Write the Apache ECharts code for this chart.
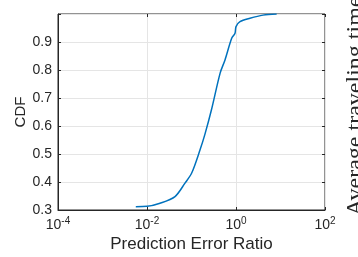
<!DOCTYPE html>
<html>
<head>
<meta charset="utf-8">
<script src="https://cdn.jsdelivr.net/npm/echarts@6/dist/echarts.min.js"></script>
<style>
  html, body { margin: 0; padding: 0; background: #fff; }
  #chart { width: 358px; height: 257px; }
</style>
</head>
<body>
<div id="chart"></div>
<script>
// values
const errorRatio = [0.0056, 0.01, 0.0196, 0.0426, 0.0714, 0.101, 0.155, 0.20, 0.28, 0.44, 0.566, 0.80, 0.95, 1.0, 1.23, 2.06, 4.05, 8.2];
const cdfValues = [0.312, 0.313, 0.324, 0.348, 0.396, 0.432, 0.514, 0.57, 0.657, 0.789, 0.836, 0.913, 0.931, 0.955, 0.973, 0.985, 0.996, 1.0];
const yTicks = [0.3, 0.4, 0.5, 0.6, 0.7, 0.8, 0.9];

const ink = "#262626";
const font = "Liberation Sans";

const chart = echarts.init(document.getElementById("chart"));

function powLabel(v) {
    const e = Math.round(Math.log10(v));
    return "10{sup|" + e + "}";
}

const gridLine = { show: true, lineStyle: { color: "#e5e5e5", width: 1 } };

chart.setOption({
    animation: false,
    backgroundColor: "#fff",
    grid: {
        left: 58, right: 33, top: 14, bottom: 47,
        outerBoundsMode: "none",
        show: true, borderColor: ink, borderWidth: 1
    },
    xAxis: [
        {
            type: "log",
            logBase: 10,
            min: 0.0001,
            max: 100,
            interval: 2,
            name: "Prediction Error Ratio",
            nameLocation: "middle",
            nameGap: 26,
            nameMoveOverlap: false,
            nameTextStyle: { fontFamily: font, fontSize: 17, color: ink },
            axisLine: { lineStyle: { color: ink } },
            axisTick: { inside: true, length: 3, lineStyle: { color: ink } },
            minorTick: { show: false },
            splitLine: gridLine,
            axisLabel: {
                formatter: powLabel,
                margin: 6,
                fontFamily: font,
                fontSize: 14,
                color: ink,
                rich: { sup: { fontFamily: font, fontSize: 10, color: ink, verticalAlign: "top", padding: [0, 0, 8, 0] } }
            }
        },
        {
            type: "log",
            logBase: 10,
            min: 0.0001,
            max: 100,
            interval: 2,
            position: "top",
            axisLine: { show: false },
            axisTick: { inside: true, length: 3, lineStyle: { color: ink } },
            axisLabel: { show: false },
            splitLine: { show: false }
        }
    ],
    yAxis: [
        {
            type: "value",
            min: 0.3,
            max: 1,
            interval: 0.1,
            name: "CDF",
            nameLocation: "middle",
            nameGap: 30,
            nameMoveOverlap: false,
            nameTextStyle: { fontFamily: font, fontSize: 15, color: ink },
            axisLine: { show: true, lineStyle: { color: ink } },
            axisTick: { show: true, inside: true, length: 3, lineStyle: { color: ink } },
            splitLine: gridLine,
            axisLabel: {
                margin: 6,
                fontFamily: font,
                fontSize: 14,
                color: ink,
                formatter: function (v) {
                    const r = Math.round(v * 10) / 10;
                    return yTicks.indexOf(r) >= 0 ? r.toFixed(1) : "";
                }
            }
        },
        {
            type: "value",
            min: 0.3,
            max: 1,
            interval: 0.1,
            position: "right",
            axisLine: { show: false },
            axisTick: { show: true, inside: true, length: 3, lineStyle: { color: ink } },
            axisLabel: { show: false },
            splitLine: { show: false }
        }
    ],
    series: [
        {
            type: "line",
            data: errorRatio.map((r, i) => [r, cdfValues[i]]),
            showSymbol: false,
            smooth: 0.3,
            lineStyle: { color: "#0072BD", width: 1.5 },
            itemStyle: { color: "#0072BD" }
        }
    ],
    graphic: [
        {
            type: "text",
            x: 368,
            y: 216,
            rotation: Math.PI / 2,
            style: {
                text: "Average traveling time",
                fontFamily: "Liberation Serif",
                fontSize: 24,
                fill: ink,
                textAlign: "left",
                textVerticalAlign: "bottom"
            }
        }
    ]
});
</script>
</body>
</html>
